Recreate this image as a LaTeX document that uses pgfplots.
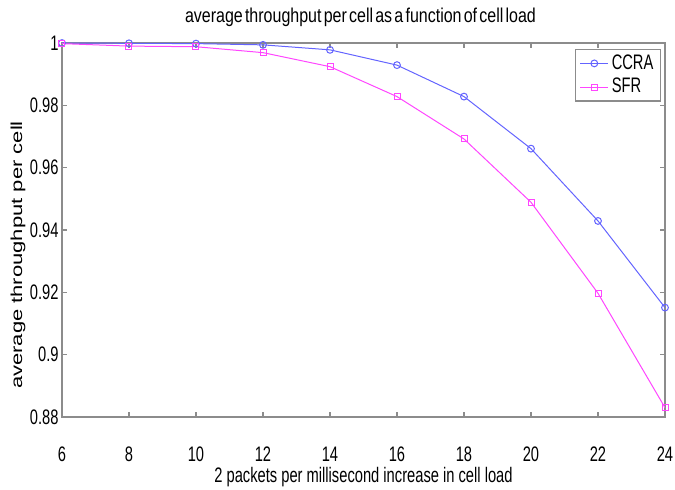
\documentclass[border=0pt]{standalone}
\usepackage{pgfplots}
\pgfplotsset{compat=1.18}
\usepackage{fontspec}
\setmainfont{Liberation Sans}[FakeStretch=0.7]
\newfontfamily\titlefont{Liberation Sans}[FakeStretch=0.8, WordSpace=0.5]
\newfontfamily\ylabfont{Liberation Sans}
\definecolor{ccra}{RGB}{100,100,255}
\definecolor{sfr}{RGB}{255,70,255}
\definecolor{axgray}{RGB}{140,140,140}
\begin{document}
\begin{tikzpicture}
\begin{axis}[
  scale only axis,
  width=301.5pt, height=187pt,
  xmin=6, xmax=24, ymin=0.88, ymax=1,
  xtick={6,8,10,12,14,16,18,20,22,24},
  ytick={0.88,0.9,0.92,0.94,0.96,0.98,1},
  /pgf/number format/assume math mode=true,
  yticklabel style={/pgf/number format/fixed, /pgf/number format/precision=2, inner xsep=1.5pt},
  xticklabel style={anchor=base, yshift=-22.5pt},
  tick label style={font=\fontsize{10.5}{12}\selectfont},
  tick align=inside,
  major tick length=2.5pt,
  axis line style={axgray, line width=0.8pt},
  tick style={axgray, line width=0.6pt},
  clip=false,
  title={\titlefont\fontsize{10}{12}\selectfont average throughput per cell as a function of cell load},
  title style={at={(axis description cs:0.495,1.0535)}, anchor=base, yshift=-6pt},
  xlabel={2 packets per millisecond increase in cell load},
  xlabel style={at={(axis description cs:0.5,-0.1765)}, anchor=base, font=\fontsize{10.5}{12}\selectfont},
  ylabel={\ylabfont\scalebox{1}[0.72]{average throughput per cell}},
  ylabel style={at={(axis description cs:-0.0663,0.433)}, anchor=base, font=\fontsize{11}{12}\selectfont},
  legend style={at={(axis description cs:0.9934,0.984)}, anchor=north east,
    draw=axgray, line width=0.6pt, font=\fontsize{10.5}{12}\selectfont,
    inner xsep=2pt, inner ysep=1.5pt, row sep=1pt,
    nodes={inner xsep=1.5pt, inner ysep=1pt}},
  legend cell align=left,
  legend image code/.code={\draw[mark repeat=2,mark phase=2] plot coordinates {(0cm,0cm)(0.245cm,0cm)(0.49cm,0cm)};},
]
\addplot[ccra, line width=0.5pt, mark=o, mark size=1.7pt, mark options={line width=0.5pt}] coordinates {
(6,1.0)(8,0.9999)(10,0.9998)(12,0.9994)(14,0.9978)(16,0.9929)(18,0.9828)(20,0.9661)(22,0.9429)(24,0.9151)};
\addlegendentry{CCRA}
\addplot[sfr, line width=0.5pt, mark=square, mark size=1.5pt, mark options={line width=0.5pt}] coordinates {
(6,0.9998)(8,0.9990)(10,0.9988)(12,0.9969)(14,0.9924)(16,0.9828)(18,0.9692)(20,0.9489)(22,0.9197)(24,0.8830)};
\addlegendentry{SFR}
\end{axis}
\pgfresetboundingbox
\path[use as bounding box] ([shift={(-31pt,-36.5pt)}]current axis.south west) rectangle ([shift={(5pt,21.5pt)}]current axis.north east);
\end{tikzpicture}
\end{document}
